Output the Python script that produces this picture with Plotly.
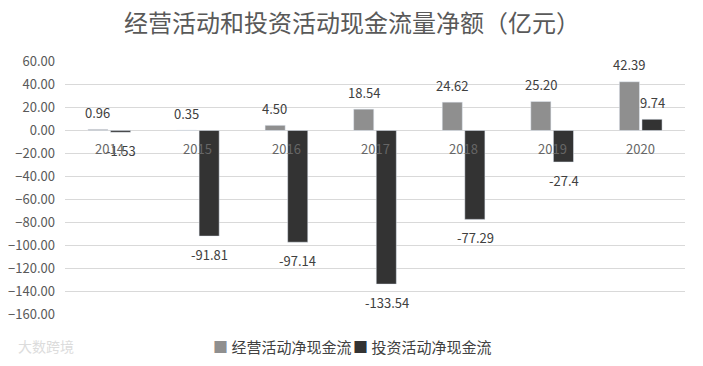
import plotly.graph_objects as go

years = ["2014", "2015", "2016", "2017", "2018", "2019", "2020"]
operating = [0.96, 0.35, 4.50, 18.54, 24.62, 25.20, 42.39]
investing = [-1.53, -91.81, -97.14, -133.54, -77.29, -27.4, 9.74]
operating_labels = ["0.96", "0.35", "4.50", "18.54", "24.62", "25.20", "42.39"]
investing_labels = ["-1.53", "-91.81", "-97.14", "-133.54", "-77.29", "-27.4", "9.74"]
y_ticks = [60, 40, 20, 0, -20, -40, -60, -80, -100, -120, -140, -160]
series_names = ["经营活动净现金流", "投资活动净现金流"]
series_colors = ["#8f8f8f", "#333333"]

FONT = "Noto Sans CJK SC, Noto Sans, sans-serif"
LABEL_FONT = dict(size=13, color="#404040", family=FONT)
W, H = 703, 366
OFF = 8  # browser default body margin
L, B = 65 - OFF, 51 + OFF
PLOT_BOTTOM = H - B  # figure-pixel y of plot bottom

fig = go.Figure()
fig.add_trace(go.Bar(x=years, y=operating, name=series_names[0], marker_color=series_colors[0]))
fig.add_trace(go.Bar(x=years, y=investing, name=series_names[1], marker_color=series_colors[1]))

# data labels (category axis -> use category index for annotation position)
for series, labels, xs in ((operating, operating_labels, -11.5), (investing, investing_labels, 11.5)):
    for i, (v, lab) in enumerate(zip(series, labels)):
        fig.add_annotation(x=i, y=v, xref="x", yref="y", text=lab, showarrow=False,
                           xshift=xs, yshift=17 if v >= 0 else -18, font=LABEL_FONT)

# category labels near the zero line
for i, yr in enumerate(years):
    fig.add_annotation(x=i, y=0, xref="x", yref="y", text=yr, showarrow=False,
                       yshift=-18, font=dict(size=13, color="#666666", family=FONT))

# legend drawn as text (tight spacing like the reference)
legend_x = [211 - OFF, 351 - OFF]
for name, col, lx in zip(series_names, series_colors, legend_x):
    fig.add_annotation(x=0, y=0, xref="paper", yref="paper",
                       xanchor="left", yanchor="middle", showarrow=False,
                       xshift=lx - L, yshift=-((346 - OFF) - PLOT_BOTTOM),
                       text=f'<span style="color:{col}">■</span> {name}',
                       font=dict(size=15, color="#404040", family=FONT))

# watermark
fig.add_annotation(x=0.0, y=0.0, xref="paper", yref="paper", xanchor="center", yanchor="middle",
                   xshift=(46 - OFF) - L, yshift=-((346 - OFF) - PLOT_BOTTOM), text="大数跨境",
                   showarrow=False, font=dict(size=14, color="#dcdcdc", family=FONT))

fig.update_layout(
    width=W, height=H,
    margin=dict(l=L, r=18 + OFF, t=61 - OFF, b=B, autoexpand=False),
    paper_bgcolor="white", plot_bgcolor="white",
    font=dict(family=FONT, color="#595959"),
    title=dict(text="经营活动和投资活动现金流量净额（亿元）", x=(352 - OFF) / W, xanchor="center",
               xref="container", y=1 - (24 - OFF) / H, yref="container", yanchor="middle",
               font=dict(size=24, color="#595959", family=FONT)),
    barmode="group", bargap=0.49, bargroupgap=0.11,
    showlegend=False,
    xaxis=dict(type="category", categoryorder="array", categoryarray=years,
               range=[-0.5, len(years) - 0.5], showticklabels=False, showline=False,
               showgrid=False, zeroline=False, ticks=""),
    yaxis=dict(range=[-160.4, 60.4], tickvals=y_ticks, tickformat=".2f", showgrid=True,
               gridcolor="#d9d9d9", gridwidth=1, zeroline=True, zerolinecolor="#d9d9d9",
               zerolinewidth=1, tickfont=dict(size=13, color="#595959", family=FONT),
               ticks="", ticklabelstandoff=9, automargin=False),
)

fig.write_html("out.html")
